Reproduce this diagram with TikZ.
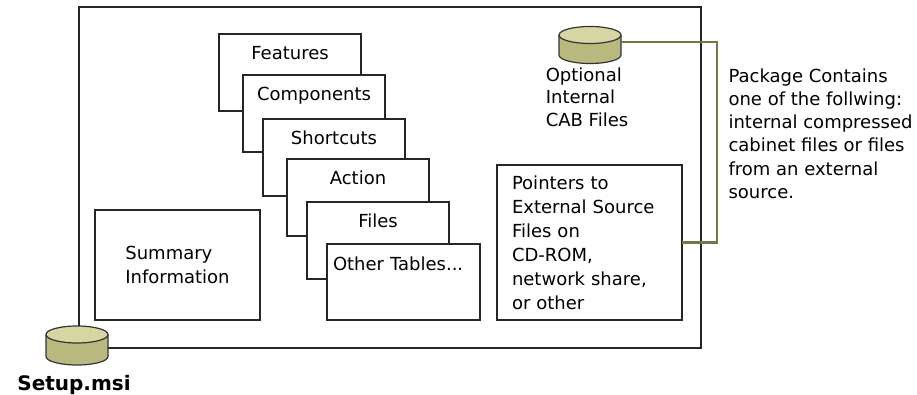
\documentclass[tikz,border=0pt]{standalone}
\usepackage{fontspec}
\setmainfont{DejaVu Sans}
\definecolor{olivelink}{RGB}{118,118,72}
\definecolor{disktop}{RGB}{214,214,163}
\definecolor{diskbody}{RGB}{184,184,127}
\tikzset{
  every node/.style={font=\fontsize{18}{24}\selectfont},
  box/.style={draw=black!85, line width=1.6pt, fill=white, outer sep=0pt},
  tbl/.style={box, anchor=north west, minimum width=142pt, inner ysep=0pt, text height=26pt, text depth=51pt},
  disk/.style={draw=black!80, line width=1.2pt},
  link/.style={draw=olivelink, line width=2.2pt},
}
\begin{document}
\begin{tikzpicture}[x=1pt,y=-1pt]
            \useasboundingbox (0,0) rectangle (917,395);
            \node[box, anchor=north west, minimum width=622pt, minimum height=341pt] (pkg) at (79,7) {};

            \node[tbl] (features) at (219,34) {Features};
            \node[tbl] (components) at (243,75) {Components};
            \node[tbl] (shortcuts) at (263,119) {Shortcuts};
            \node[tbl] (action) at (287,159) {Action};
            \node[tbl] (files) at (307,202) {Files};
            \node[tbl, text width=141pt, inner xsep=6pt, align=left, text depth=50pt] (other) at (327,244) {Other Tables...};

            \node[box, minimum width=165pt, minimum height=110pt, align=left] (summary) at (177.5,265) {Summary\\Information};
            \node[box, anchor=north west, text width=155pt, inner xsep=15pt, inner ysep=10pt, minimum height=155pt, align=left] (pointers) at (497,165) {Pointers to\\External Source\\Files on\\CD-ROM,\\network share,\\or other};

            \filldraw[disk, fill=diskbody] (559,35) -- (559,55) arc[start angle=180, end angle=0, x radius=31, y radius=8.5] -- (621,35);
            \filldraw[disk, fill=disktop] (590,35) ellipse[x radius=31, y radius=8.5];
            \coordinate (cab) at (621,42);
            \node[anchor=north, align=left, font=\fontsize{18}{22.5}\selectfont] (cabname) at (587,64) {Optional\\Internal\\CAB Files};
            \node[anchor=north west, align=left, font=\fontsize{18}{23.2}\selectfont] (note) at (725,65) {Package Contains\\one of the follwing:\\internal compressed\\cabinet files or files\\from an external\\source.};

            \filldraw[disk, fill=diskbody] (46,334.5) -- (46,356.5) arc[start angle=180, end angle=0, x radius=31, y radius=8.5] -- (108,334.5);
            \filldraw[disk, fill=disktop] (77,334.5) ellipse[x radius=31, y radius=8.5];
            \node[anchor=base, font=\bfseries\fontsize{20}{24}\selectfont] (setupname) at (74,390) {Setup.msi};

            \coordinate (turn) at (717,150);
            \draw[link] (cab) -| (turn) |- (pointers.east);
        \end{tikzpicture}
\end{document}
